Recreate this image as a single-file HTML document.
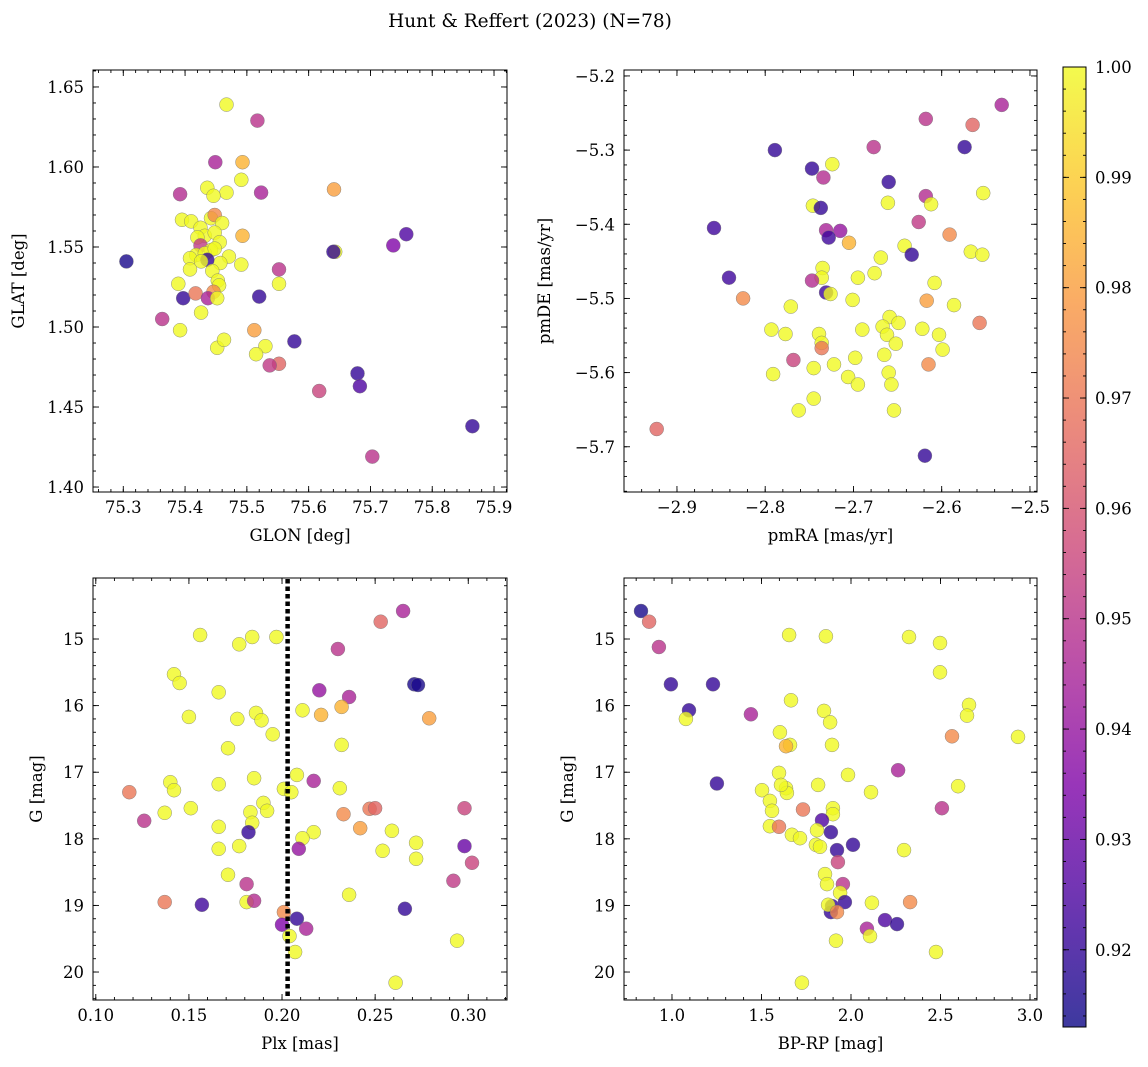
<!DOCTYPE html>
<html><head><meta charset="utf-8">
<style>
html,body{margin:0;padding:0;background:#fff;}
svg{display:block;font-family:"DejaVu Serif","Liberation Serif",serif;}
</style></head>
<body>
<svg id="fig" width="1148" height="1067" viewBox="0 0 1148 1067" xmlns="http://www.w3.org/2000/svg">
<text x="530" y="27" text-anchor="middle" font-size="18.5">Hunt &amp; Reffert (2023) (N=78)</text>
</svg>
<script>
// ---------- data ----------
const p1Glon=[75.467,75.517,75.449,75.493,75.436,75.491,75.392,75.467,75.523,75.446,75.641,75.395,75.410,75.442,75.448,75.460,75.425,75.432,75.448,75.493,75.420,75.456,75.425,75.442,75.418,75.408,75.432,75.448,75.471,75.491,75.457,75.436,75.426,75.305,75.643,75.640,75.737,75.758,75.408,75.444,75.453,75.455,75.552,75.552,75.389,75.397,75.417,75.446,75.437,75.452,75.426,75.520,75.363,75.392,75.512,75.452,75.463,75.530,75.515,75.552,75.537,75.577,75.679,75.683,75.617,75.703,75.865];
const p1Glat=[1.639,1.629,1.603,1.603,1.587,1.592,1.583,1.584,1.584,1.582,1.586,1.567,1.566,1.568,1.570,1.565,1.562,1.557,1.559,1.557,1.556,1.553,1.551,1.548,1.545,1.543,1.546,1.549,1.544,1.539,1.540,1.542,1.541,1.541,1.547,1.547,1.551,1.558,1.536,1.535,1.529,1.526,1.536,1.527,1.527,1.518,1.521,1.522,1.518,1.518,1.509,1.519,1.505,1.498,1.498,1.487,1.492,1.488,1.483,1.477,1.476,1.491,1.471,1.463,1.460,1.419,1.438];
const p1Prob=[1.0,0.95,0.945,0.985,1.0,1.0,0.948,1.0,0.945,1.0,0.98,1.0,1.0,1.0,0.975,1.0,1.0,1.0,1.0,0.985,1.0,1.0,0.952,1.0,1.0,1.0,1.0,1.0,1.0,1.0,1.0,0.92,1.0,0.915,1.0,0.92,0.935,0.925,1.0,1.0,1.0,1.0,0.95,1.0,1.0,0.92,0.97,0.975,0.945,1.0,1.0,0.92,0.95,1.0,0.98,1.0,1.0,1.0,1.0,0.965,0.952,0.92,0.92,0.925,0.955,0.95,0.92];

const p2PmRA=[-2.532,-2.618,-2.565,-2.789,-2.677,-2.574,-2.724,-2.747,-2.734,-2.660,-2.618,-2.553,-2.746,-2.737,-2.612,-2.661,-2.858,-2.731,-2.715,-2.728,-2.705,-2.626,-2.591,-2.642,-2.634,-2.567,-2.554,-2.735,-2.669,-2.841,-2.736,-2.695,-2.676,-2.747,-2.731,-2.726,-2.608,-2.825,-2.771,-2.701,-2.617,-2.586,-2.659,-2.793,-2.777,-2.690,-2.667,-2.649,-2.622,-2.557,-2.739,-2.662,-2.603,-2.736,-2.736,-2.652,-2.599,-2.665,-2.768,-2.698,-2.615,-2.722,-2.745,-2.791,-2.660,-2.706,-2.657,-2.695,-2.745,-2.762,-2.654,-2.923,-2.619];
const p2PmDE=[-5.239,-5.258,-5.266,-5.300,-5.296,-5.296,-5.319,-5.325,-5.337,-5.343,-5.362,-5.358,-5.375,-5.378,-5.373,-5.371,-5.405,-5.408,-5.409,-5.418,-5.425,-5.397,-5.414,-5.429,-5.441,-5.437,-5.441,-5.459,-5.445,-5.472,-5.472,-5.472,-5.466,-5.476,-5.492,-5.494,-5.479,-5.500,-5.511,-5.502,-5.503,-5.509,-5.525,-5.542,-5.548,-5.542,-5.538,-5.533,-5.541,-5.533,-5.548,-5.549,-5.549,-5.560,-5.567,-5.561,-5.569,-5.576,-5.583,-5.580,-5.589,-5.589,-5.594,-5.602,-5.600,-5.606,-5.616,-5.616,-5.635,-5.651,-5.651,-5.676,-5.712];
const p2Prob=[0.945,0.95,0.965,0.92,0.95,0.92,1.0,0.92,0.948,0.92,0.948,1.0,1.0,0.92,1.0,1.0,0.922,0.945,0.94,0.922,0.985,0.952,0.975,1.0,0.92,1.0,1.0,1.0,1.0,0.922,1.0,1.0,1.0,0.948,0.922,1.0,1.0,0.975,1.0,1.0,0.98,1.0,1.0,1.0,1.0,1.0,1.0,1.0,1.0,0.97,1.0,1.0,1.0,1.0,0.97,1.0,1.0,1.0,0.955,1.0,0.975,1.0,1.0,1.0,1.0,1.0,1.0,1.0,1.0,1.0,1.0,0.965,0.92];

const p3Plx=[0.265,0.253,0.156,0.184,0.197,0.177,0.230,0.271,0.273,0.142,0.145,0.166,0.220,0.236,0.211,0.221,0.232,0.186,0.176,0.189,0.195,0.150,0.279,0.171,0.232,0.208,0.185,0.217,0.140,0.166,0.118,0.142,0.201,0.205,0.231,0.190,0.192,0.151,0.137,0.183,0.247,0.250,0.233,0.298,0.126,0.184,0.166,0.182,0.242,0.217,0.259,0.211,0.209,0.177,0.166,0.272,0.298,0.254,0.302,0.272,0.171,0.181,0.292,0.236,0.137,0.157,0.181,0.185,0.266,0.201,0.208,0.200,0.213,0.204,0.294,0.207,0.261];
const p3G=[14.58,14.74,14.94,14.97,14.97,15.08,15.15,15.68,15.69,15.53,15.66,15.80,15.77,15.87,16.07,16.14,16.02,16.11,16.20,16.22,16.43,16.17,16.19,16.64,16.59,17.04,17.09,17.13,17.15,17.18,17.30,17.27,17.25,17.30,17.24,17.46,17.58,17.54,17.61,17.60,17.55,17.54,17.63,17.54,17.73,17.76,17.82,17.90,17.84,17.90,17.88,17.99,18.15,18.11,18.15,18.06,18.11,18.18,18.36,18.30,18.54,18.68,18.63,18.84,18.95,18.99,18.95,18.93,19.05,19.10,19.20,19.29,19.35,19.46,19.53,19.70,20.16];
const p3Prob=[0.945,0.965,1.0,1.0,1.0,1.0,0.95,0.915,0.915,1.0,1.0,1.0,0.94,0.945,1.0,0.985,0.985,1.0,1.0,1.0,1.0,1.0,0.98,1.0,1.0,1.0,1.0,0.945,1.0,1.0,0.97,1.0,1.0,1.0,1.0,1.0,1.0,1.0,1.0,1.0,0.97,0.965,0.975,0.955,0.95,1.0,1.0,0.92,0.98,1.0,1.0,1.0,0.94,1.0,1.0,1.0,0.93,1.0,0.955,1.0,1.0,0.95,0.952,1.0,0.97,0.922,1.0,0.948,0.92,0.975,0.92,0.935,0.945,1.0,1.0,1.0,1.0];

const p4Color=[0.827,0.872,0.927,0.994,1.229,1.095,1.078,1.441,1.251,1.654,1.860,2.324,2.497,1.849,1.883,1.894,1.665,2.564,2.933,2.659,2.648,2.497,1.603,1.659,1.637,1.598,1.503,1.547,1.637,1.642,1.609,1.816,1.983,2.112,2.263,2.508,2.598,1.559,1.547,1.598,1.670,1.715,1.732,1.899,1.899,1.838,1.810,1.888,1.804,1.827,1.922,2.011,2.296,1.927,1.855,1.866,1.955,1.939,1.894,1.888,1.966,1.872,1.922,2.117,2.330,2.190,2.257,2.089,2.106,1.916,2.475,1.726];
const p4G=[14.58,14.74,15.12,15.68,15.68,16.07,16.20,16.13,17.17,14.94,14.96,14.97,15.06,16.08,16.25,16.59,15.92,16.46,16.47,15.99,16.15,15.50,16.40,16.59,16.61,17.01,17.27,17.43,17.24,17.31,17.19,17.19,17.04,17.30,16.97,17.54,17.21,17.58,17.81,17.82,17.94,17.99,17.56,17.54,17.63,17.72,17.87,17.90,18.09,18.12,18.17,18.09,18.17,18.35,18.53,18.68,18.68,18.81,19.01,19.10,18.95,18.99,19.10,18.96,18.95,19.22,19.28,19.35,19.46,19.53,19.70,20.16];
const p4Prob=[0.915,0.965,0.95,0.92,0.92,0.92,1.0,0.945,0.92,1.0,1.0,1.0,1.0,1.0,1.0,1.0,1.0,0.975,1.0,1.0,1.0,1.0,1.0,1.0,0.985,1.0,1.0,1.0,1.0,1.0,1.0,1.0,1.0,1.0,0.945,0.95,1.0,1.0,1.0,0.97,1.0,1.0,0.97,1.0,1.0,0.925,1.0,0.92,1.0,1.0,0.92,0.92,1.0,0.955,1.0,1.0,0.95,1.0,0.92,0.92,0.92,1.0,0.975,1.0,0.975,0.925,0.92,0.945,1.0,1.0,1.0,1.0];

const plxLine=0.203;
const cbTicks=[0.92,0.93,0.94,0.95,0.96,0.97,0.98,0.99,1.00];
const cMin=0.913, cMax=1.0;

// ---------- helpers ----------
const NS="http://www.w3.org/2000/svg";
const svg=document.getElementById('fig');
function mk(tag,attrs,parent){const e=document.createElementNS(NS,tag);for(const k in attrs)e.setAttribute(k,attrs[k]);(parent||svg).appendChild(e);return e;}
const stops=[[0,[13,8,135]],[0.125,[71,3,159]],[0.25,[126,3,168]],[0.375,[170,35,149]],[0.5,[204,71,120]],[0.625,[230,108,92]],[0.75,[248,149,64]],[0.875,[253,196,39]],[1,[240,249,33]]];
function plasma(t){t=Math.max(0,Math.min(1,t));for(let i=1;i<stops.length;i++){if(t<=stops[i][0]){const a=stops[i-1],b=stops[i];const f=(t-a[0])/(b[0]-a[0]);const c=a[1].map((v,j)=>Math.round(v+(b[1][j]-v)*f));return `rgb(${c[0]},${c[1]},${c[2]})`;}}return 'rgb(240,249,33)';}
function cmap(v){return plasma((v-cMin)/(cMax-cMin));}
const TFS=16.5, LFS=16.5;

function panel(name,box,xr,yr,xMaj,xMinStep,yMaj,yMinStep,xfmt,yfmt,xlabel,ylabel,xs,ys,cs,invertY,ylx){
  const [L,T,R,B]=box;
  const sx=v=>L+(v-xr[0])/(xr[1]-xr[0])*(R-L);
  const sy=invertY?(v=>T+(v-yr[0])/(yr[1]-yr[0])*(B-T)):(v=>B-(v-yr[0])/(yr[1]-yr[0])*(B-T));
  const g=mk('g',{});
  
  
  const pts=mk('g',{},g);
  
  
  for(let i=0;i<xs.length;i++){
    const c=mk('circle',{cx:sx(xs[i]).toFixed(1),cy:sy(ys[i]).toFixed(1),r:7,fill:cmap(cs[i]),'fill-opacity':0.8,stroke:'#777','stroke-width':0.5,'stroke-opacity':0.8},pts);
    
    
  }
  const fr=mk('rect',{x:L,y:T,width:R-L,height:B-T,fill:'none',stroke:'#000','stroke-width':1},g);
  
  
  const tk=mk('g',{stroke:'#000','stroke-width':0.9},g);
  
  
  const eps=1e-9;
  for(let v=Math.ceil((xr[0]-eps)/xMinStep)*xMinStep;v<=xr[1]+eps;v+=xMinStep){const x=sx(v);mk('line',{x1:x,x2:x,y1:B,y2:B-3},tk);mk('line',{x1:x,x2:x,y1:T,y2:T+3},tk);}
  for(let v=Math.ceil((yr[0]-eps)/yMinStep)*yMinStep;v<=yr[1]+eps;v+=yMinStep){const y=sy(v);mk('line',{x1:L,x2:L+3,y1:y,y2:y},tk);mk('line',{x1:R,x2:R-3,y1:y,y2:y},tk);}
  xMaj.forEach(v=>{const x=sx(v);mk('line',{x1:x,x2:x,y1:B,y2:B-6},tk);mk('line',{x1:x,x2:x,y1:T,y2:T+6},tk);
    const t=mk('text',{x:x,y:B+21,'text-anchor':'middle','font-size':TFS},g);t.textContent=xfmt(v);
    
    });
  yMaj.forEach(v=>{const y=sy(v);mk('line',{x1:L,x2:L+6,y1:y,y2:y},tk);mk('line',{x1:R,x2:R-6,y1:y,y2:y},tk);
    const t=mk('text',{x:L-9,y:y+6,'text-anchor':'end','font-size':TFS},g);t.textContent=yfmt(v);
    
    });
  const xl=mk('text',{x:(L+R)/2,y:B+49,'text-anchor':'middle','font-size':LFS},g);xl.textContent=xlabel;
  
  
  const yx=ylx, yc=(T+B)/2;
  const yl=mk('text',{x:yx,y:yc,'text-anchor':'middle','font-size':LFS,transform:`rotate(-90 ${yx} ${yc})`},g);yl.textContent=ylabel;
  
  
  return {sx,sy,g};
}
const m=s=>s.replace('-','\u2212');
const f=(d)=>v=>m(v.toFixed(d));

panel('panel-glon-glat',[93,70,507,492],[75.251,75.921],[1.3969,1.6606],[75.3,75.4,75.5,75.6,75.7,75.8,75.9],0.02,[1.40,1.45,1.50,1.55,1.60,1.65],0.01,f(1),f(2),'GLON [deg]','GLAT [deg]',p1Glon,p1Glat,p1Prob,false,24);
panel('panel-pm',[624,70,1037,492],[-2.960,-2.492],[-5.761,-5.192],[-2.9,-2.8,-2.7,-2.6,-2.5],0.02,[-5.7,-5.6,-5.5,-5.4,-5.3,-5.2],0.02,f(1),f(1),'pmRA [mas/yr]','pmDE [mas/yr]',p2PmRA,p2PmDE,p2Prob,false,550);
const P3=panel('panel-plx-g',[93,578,507,1000],[0.0985,0.3208],[14.084,20.42],[0.10,0.15,0.20,0.25,0.30],0.01,[15,16,17,18,19,20],0.2,f(2),f(0),'Plx [mas]','G [mag]',p3Plx,p3G,p3Prob,true,42);
const dl=mk('line',{x1:P3.sx(plxLine),x2:P3.sx(plxLine),y1:579,y2:999,stroke:'#000','stroke-width':4.5,'stroke-dasharray':'4.5,3'},P3.g);


panel('panel-cmd',[624,578,1037,1000],[0.732,3.039],[14.084,20.42],[1.0,1.5,2.0,2.5,3.0],0.1,[15,16,17,18,19,20],0.2,f(1),f(0),'BP-RP [mag]','G [mag]',p4Color,p4G,p4Prob,true,573);

// ---------- colorbar ----------
const cb=mk('g',{});


const defs=mk('defs',{},svg);
const lg=mk('linearGradient',{id:'pl',x1:0,y1:1,x2:0,y2:0},defs);
for(let i=0;i<=20;i++){mk('stop',{offset:i/20,'stop-color':plasma(i/20),'stop-opacity':0.8},lg);}
const CT=67,CB=1027,CL=1063,CR=1086;
mk('rect',{x:CL,y:CT,width:CR-CL,height:CB-CT,fill:'url(#pl)',stroke:'#000','stroke-width':1},cb);
const cy=v=>CB-(v-cMin)/(cMax-cMin)*(CB-CT);
for(let v=0.914;v<=1.0001;v+=0.002){const y=cy(v);mk('line',{x1:CR,x2:CR-3,y1:y,y2:y,stroke:'#000','stroke-width':0.9},cb);mk('line',{x1:CL,x2:CL+3,y1:y,y2:y,stroke:'#000','stroke-width':0.9},cb);}
cbTicks.forEach(v=>{const y=cy(v);mk('line',{x1:CR,x2:CR-6,y1:y,y2:y,stroke:'#000','stroke-width':0.9},cb);mk('line',{x1:CL,x2:CL+6,y1:y,y2:y,stroke:'#000','stroke-width':0.9},cb);
  const t=mk('text',{x:CR+9,y:y+6,'font-size':TFS},cb);t.textContent=v.toFixed(2);
  
  });
</script>
</body></html>
